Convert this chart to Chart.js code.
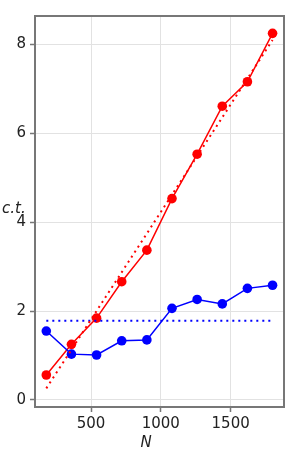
<!DOCTYPE html>
<html>
<head>
<meta charset="utf-8">
<script src="https://cdn.jsdelivr.net/npm/chart.js@4/dist/chart.umd.min.js"></script>
<style>
  html, body { margin: 0; padding: 0; background: #fff; }
  #wrap { width: 300px; height: 450px; }
</style>
</head>
<body>
<div id="wrap"><canvas id="lineChart" width="300" height="450"></canvas></div>
<script>
const sizes = [180, 360, 540, 720, 900, 1080, 1260, 1440, 1620, 1800];
const redValues = [0.56, 1.25, 1.84, 2.66, 3.37, 4.53, 5.53, 6.61, 7.16, 8.25];
const blueValues = [1.55, 1.03, 1.01, 1.33, 1.35, 2.06, 2.26, 2.16, 2.51, 2.58];
const redFitEnds = [0.26, 8.1];
const blueMean = 1.78;
const xTicks = [500, 1000, 1500];
const yTicks = [0, 2, 4, 6, 8];

const toPoints = (xs, ys) => xs.map((x, i) => ({ x: x, y: ys[i] }));
const first = sizes[0], last = sizes[sizes.length - 1];

// box around the plot + the two axis labels
const frame = {
    id: 'frame',
    afterDraw(chart) {
        const { ctx, chartArea: a } = chart;
        ctx.save();
        ctx.strokeStyle = '#777';
        ctx.lineWidth = 2;
        ctx.strokeRect(a.left, a.top, a.right - a.left, a.bottom - a.top);
        ctx.fillStyle = '#222';
        ctx.font = 'italic 15px "DejaVu Sans"';
        ctx.textBaseline = 'alphabetic';
        ctx.textAlign = 'left';
        ctx.fillText('c.t.', 2, 213);
        ctx.textAlign = 'center';
        ctx.fillText('N', 146, 447);
        ctx.restore();
    }
};

const ctx = document.getElementById('lineChart').getContext('2d');
new Chart(ctx, {
    type: 'scatter',
    data: {
        datasets: [
            {
                label: 'red fit',
                data: toPoints([first, last], redFitEnds),
                showLine: true,
                borderColor: '#ff0000',
                borderWidth: 2,
                borderDash: [2, 4],
                pointRadius: 0
            },
            {
                label: 'blue mean',
                data: toPoints([first, last], [blueMean, blueMean]),
                showLine: true,
                borderColor: '#0000ff',
                borderWidth: 2,
                borderDash: [2, 4],
                pointRadius: 0
            },
            {
                label: 'blue',
                data: toPoints(sizes, blueValues),
                showLine: true,
                borderColor: '#0000ff',
                backgroundColor: '#0000ff',
                borderWidth: 1.5,
                pointRadius: 4.8,
                pointBorderWidth: 0
            },
            {
                label: 'red',
                data: toPoints(sizes, redValues),
                showLine: true,
                borderColor: '#ff0000',
                backgroundColor: '#ff0000',
                borderWidth: 1.5,
                pointRadius: 4.8,
                pointBorderWidth: 0
            }
        ]
    },
    options: {
        responsive: false,
        animation: false,
        layout: { padding: { left: 0, top: 16, right: 16, bottom: 0 } },
        plugins: {
            legend: { display: false },
            tooltip: { enabled: false }
        },
        scales: {
            x: {
                type: 'linear',
                min: 99,
                max: 1882,
                afterFit: (s) => { s.height = 43; },
                afterBuildTicks: (s) => { s.ticks = xTicks.map(v => ({ value: v })); },
                ticks: {
                    maxRotation: 0,
                    padding: 3,
                    color: '#222',
                    font: { family: 'DejaVu Sans', size: 15 },
                    callback: (v) => String(v)
                },
                grid: { color: '#e2e2e2', lineWidth: 1, tickLength: 5, tickColor: '#777', tickWidth: 1.5 },
                border: { display: false }
            },
            y: {
                type: 'linear',
                min: -0.16,
                max: 8.64,
                afterFit: (s) => { s.width = 35; },
                afterBuildTicks: (s) => { s.ticks = yTicks.map(v => ({ value: v })); },
                ticks: {
                    padding: 4,
                    color: '#222',
                    font: { family: 'DejaVu Sans', size: 15 },
                    callback: (v) => String(v)
                },
                grid: { color: '#e2e2e2', lineWidth: 1, tickLength: 5, tickColor: '#777', tickWidth: 1.5 },
                border: { display: false }
            }
        }
    },
    plugins: [frame]
});
</script>
</body>
</html>
